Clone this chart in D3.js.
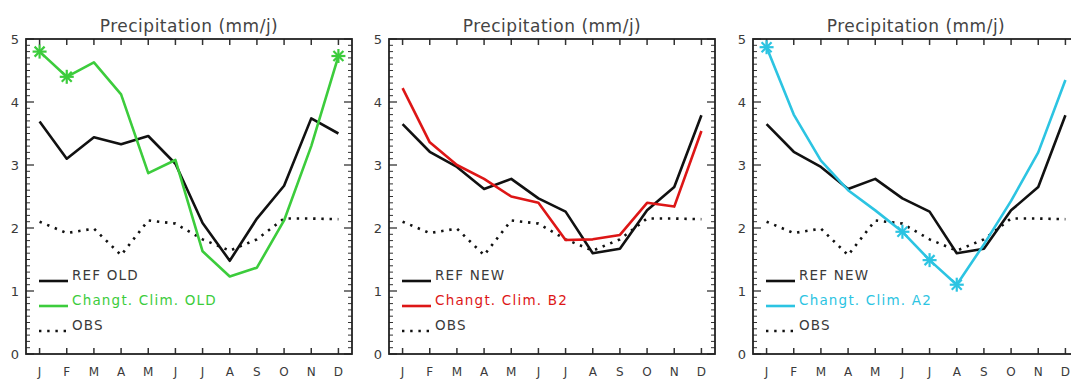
<!DOCTYPE html>
<html lang="en">
  <head>
    <title>Precipitation (mm/j)</title>
    <meta content="text/html;charset=utf-8" http-equiv="Content-Type">
    <script src="https://cdn.jsdelivr.net/npm/d3@7"></script>
    <style>
      body { margin: 0; background: #fff; }
      text { font-family: 'DejaVu Sans', sans-serif; fill: #3a3a3a; }
    </style>
  </head>

  <body>
    <div id='main'></div>
  </body>

  <script type='text/javascript'>

      // month labels
      const months = ['J','F','M','A','M','J','J','A','S','O','N','D'];
      const yTicks = [0, 1, 2, 3, 4, 5];

      // observed precipitation (same in all three panels)
      const obs = [2.1, 1.92, 1.99, 1.57, 2.12, 2.07, 1.82, 1.64, 1.82, 2.15, 2.15, 2.14];

      // reference runs
      const refOld = [3.69, 3.1, 3.44, 3.33, 3.46, 3.02, 2.08, 1.48, 2.15, 2.67, 3.74, 3.5];
      const refNew = [3.65, 3.21, 2.97, 2.62, 2.78, 2.47, 2.26, 1.6, 1.67, 2.28, 2.65, 3.79];

      // climate change scenarios
      const climOld = [4.8, 4.4, 4.63, 4.12, 2.87, 3.08, 1.63, 1.23, 1.37, 2.12, 3.3, 4.73];
      const climB2  = [4.22, 3.36, 3.0, 2.78, 2.5, 2.4, 1.81, 1.82, 1.89, 2.4, 2.34, 3.54];
      const climA2  = [4.87, 3.8, 3.07, 2.6, 2.28, 1.94, 1.49, 1.1, 1.74, 2.43, 3.2, 4.35];

      // months marked with a star on the scenario curve
      const starsOld = [0, 1, 11];
      const starsB2  = [];
      const starsA2  = [0, 5, 6, 7];

      const panels = [
        {ref: refOld, refName: 'REF OLD', clim: climOld, climName: 'Changt. Clim. OLD', color: '#3ccc3c', stars: starsOld},
        {ref: refNew, refName: 'REF NEW', clim: climB2, climName: 'Changt. Clim. B2', color: '#dd1616', stars: starsB2},
        {ref: refNew, refName: 'REF NEW', clim: climA2, climName: 'Changt. Clim. A2', color: '#2cc4e2', stars: starsA2}
      ];

      let canvas = d3.select('#main').append('svg')
        .attr('width', 1071)
        .attr('height', 379);

      let offsets = [0, 363, 727];
      let pLeft = 26, pRight = 352, pTop = 39, pBottom = 354;

      let x = d3.scaleLinear().domain([-0.5, 11.5]).range([pLeft, pRight]);
      let y = d3.scaleLinear().domain([0, 5]).range([pBottom, pTop]);

      const line = d3.line()
        .x((d, i) => x(i))
        .y(d => y(d));

      panels.forEach((p, k) => {
        let g = canvas.append('g')
          .attr('transform', 'translate(' + offsets[k] + ',0)');

        // title
        g.append('text')
          .attr('x', (pLeft + pRight) / 2)
          .attr('y', 32)
          .attr('text-anchor', 'middle')
          .attr('font-size', '17px')
          .attr('letter-spacing', '0.5px')
          .style('fill', '#444')
          .text('Precipitation (mm/j)');

        // minor ticks on the left and right sides
        const minor = d3.range(0, 50).map(d => d / 10).filter((d, i) => i % 10 != 0);
        g.selectAll('line.minorL')
          .data(minor)
          .enter().append('line')
          .attr('x1', pLeft).attr('x2', pLeft + 4)
          .attr('y1', d => y(d)).attr('y2', d => y(d))
          .attr('stroke', '#333').attr('stroke-width', 1);
        g.selectAll('line.minorR')
          .data(minor)
          .enter().append('line')
          .attr('x1', pRight).attr('x2', pRight - 4)
          .attr('y1', d => y(d)).attr('y2', d => y(d))
          .attr('stroke', '#333').attr('stroke-width', 1);

        // major y ticks
        g.selectAll('line.majorL')
          .data(yTicks)
          .enter().append('line')
          .attr('x1', pLeft).attr('x2', pLeft + 8)
          .attr('y1', d => y(d)).attr('y2', d => y(d))
          .attr('stroke', '#333').attr('stroke-width', 1.3);
        g.selectAll('line.majorR')
          .data(yTicks)
          .enter().append('line')
          .attr('x1', pRight).attr('x2', pRight - 8)
          .attr('y1', d => y(d)).attr('y2', d => y(d))
          .attr('stroke', '#333').attr('stroke-width', 1.3);

        g.selectAll('text.ylab')
          .data(yTicks)
          .enter().append('text')
          .attr('x', pLeft - 7)
          .attr('y', d => y(d) + 5)
          .attr('text-anchor', 'end')
          .attr('font-size', '13px')
          .text(d => d);

        // month ticks top and bottom
        g.selectAll('line.xb')
          .data(months)
          .enter().append('line')
          .attr('x1', (d, i) => x(i)).attr('x2', (d, i) => x(i))
          .attr('y1', pBottom).attr('y2', pBottom - 6)
          .attr('stroke', '#333').attr('stroke-width', 1.5);
        g.selectAll('line.xt')
          .data(months)
          .enter().append('line')
          .attr('x1', (d, i) => x(i)).attr('x2', (d, i) => x(i))
          .attr('y1', pTop).attr('y2', pTop + 6)
          .attr('stroke', '#333').attr('stroke-width', 1.5);

        g.selectAll('text.xlab')
          .data(months)
          .enter().append('text')
          .attr('x', (d, i) => x(i))
          .attr('y', 376)
          .attr('text-anchor', 'middle')
          .attr('font-size', '12px')
          .text(d => d);

        // frame
        g.append('rect')
          .attr('x', pLeft).attr('y', pTop)
          .attr('width', pRight - pLeft).attr('height', pBottom - pTop)
          .attr('fill', 'none')
          .attr('stroke', '#222')
          .attr('stroke-width', 1.8);

        // curves
        g.append('path')
          .datum(obs)
          .attr('d', line)
          .attr('fill', 'none')
          .attr('stroke', '#111')
          .attr('stroke-width', 2.6)
          .attr('stroke-dasharray', '2.4,5.8');

        g.append('path')
          .datum(p.ref)
          .attr('d', line)
          .attr('fill', 'none')
          .attr('stroke', '#111')
          .attr('stroke-width', 2.6)
          .attr('stroke-linejoin', 'round');

        g.append('path')
          .datum(p.clim)
          .attr('d', line)
          .attr('fill', 'none')
          .attr('stroke', p.color)
          .attr('stroke-width', 2.6)
          .attr('stroke-linejoin', 'round');

        // star markers
        const star = g.selectAll('g.star')
          .data(p.stars)
          .enter().append('g')
          .attr('transform', d => 'translate(' + x(d) + ',' + y(p.clim[d]) + ')');
        [[-7, 0, 7, 0], [0, -7, 0, 7], [-5, -5, 5, 5], [-5, 5, 5, -5]].forEach(s => {
          star.append('line')
            .attr('x1', s[0]).attr('y1', s[1])
            .attr('x2', s[2]).attr('y2', s[3])
            .attr('stroke', p.color)
            .attr('stroke-width', 2.2);
        });

        // legend
        const legend = [
          {name: p.refName, color: '#111', textColor: '#3a3a3a', dash: null, y: 281},
          {name: p.climName, color: p.color, textColor: p.color, dash: null, y: 306},
          {name: 'OBS', color: '#111', textColor: '#3a3a3a', dash: '2.4,5.8', y: 331}
        ];
        legend.forEach(l => {
          g.append('line')
            .attr('x1', pLeft + 13).attr('x2', pLeft + 42)
            .attr('y1', l.y).attr('y2', l.y)
            .attr('stroke', l.color)
            .attr('stroke-width', 2.6)
            .attr('stroke-dasharray', l.dash);
          g.append('text')
            .attr('x', pLeft + 46)
            .attr('y', l.y - 1)
            .attr('font-size', '13.5px')
            .attr('letter-spacing', '1.2px')
            .style('fill', l.textColor)
            .text(l.name);
        });
      });

  </script>
</html>
